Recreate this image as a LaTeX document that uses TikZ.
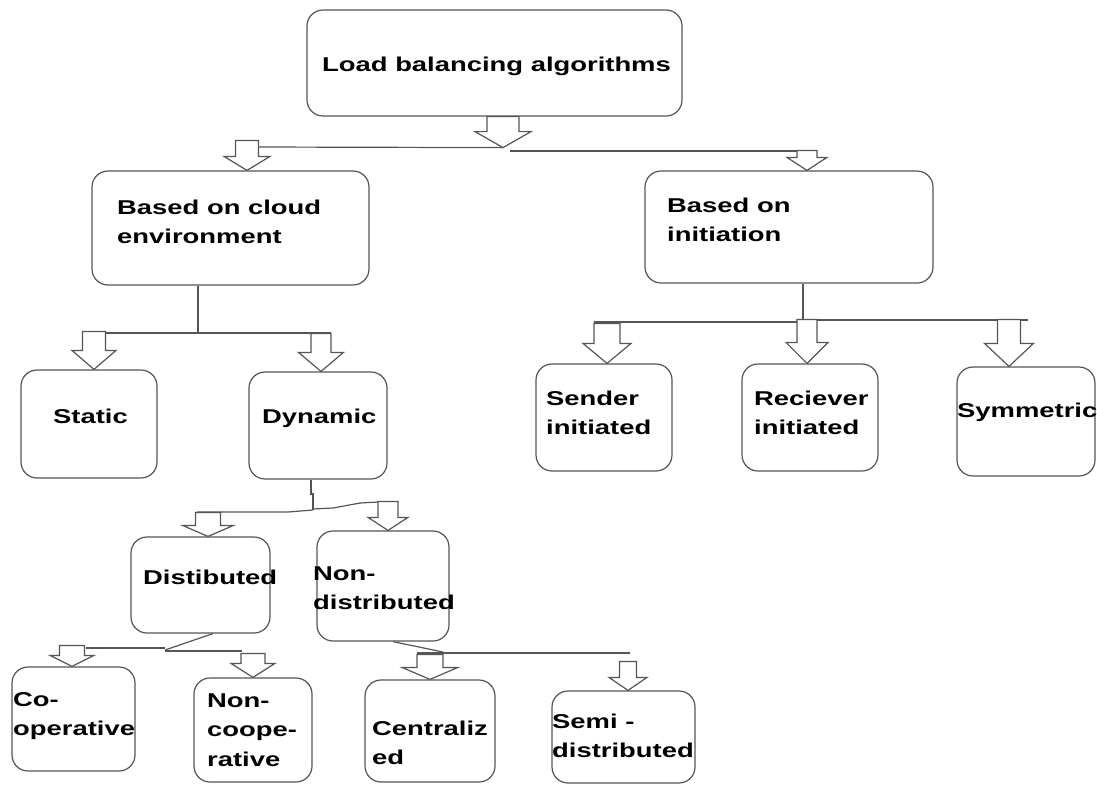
\documentclass[tikz,border=0pt]{standalone}
\usepackage{fontspec}
\usepackage{graphicx}
\setmainfont{Liberation Sans}
\usetikzlibrary{calc}
\newcommand{\X}[1]{\scalebox{1.37}[1]{#1}}
\definecolor{ln}{RGB}{85,85,85}
\tikzset{
  conn/.style={draw=ln, line width=1.2pt, line join=miter},
  boxn/.style={draw=ln, line width=1.2pt, rounded corners=16pt, inner sep=0pt},
  txt/.style={inner sep=0pt, font=\bfseries\fontsize{20}{29.5}\selectfont, align=left, anchor=base west, text=black},
  pics/barrow/.style args={#1/#2/#3/#4}{code={
    \draw[conn, fill=white] (-#2,{-#4-#1}) -- (-#2,-#4) -- (-#3,-#4) -- (0,0) -- (#3,-#4) -- (#2,-#4) -- (#2,{-#4-#1}) -- cycle;
  }}
}
\begin{document}
\begin{tikzpicture}[x=1pt,y=-1pt]
\useasboundingbox (0,0) rectangle (1097,785);
% boxes
\node[boxn, minimum width=375pt, minimum height=106pt] (top) at (494.5,63) {};
\node[boxn, minimum width=277pt, minimum height=114pt] (cloud) at (230.5,228) {};
\node[boxn, minimum width=288pt, minimum height=112pt] (init) at (789,227) {};
\node[boxn, minimum width=136pt, minimum height=108pt] (static) at (89,424) {};
\node[boxn, minimum width=138pt, minimum height=107pt] (dynamic) at (318,425.5) {};
\node[boxn, minimum width=136pt, minimum height=107pt] (sender) at (604,417.5) {};
\node[boxn, minimum width=136pt, minimum height=107pt] (receiver) at (810,417.5) {};
\node[boxn, minimum width=138pt, minimum height=109pt] (symm) at (1026,421.5) {};
\node[boxn, minimum width=139pt, minimum height=96pt] (dist) at (200.5,585) {};
\node[boxn, minimum width=132pt, minimum height=110pt] (nondist) at (383,586) {};
\node[boxn, minimum width=123pt, minimum height=104pt] (coop) at (73.5,719) {};
\node[boxn, minimum width=118pt, minimum height=104pt] (noncoop) at (253,730) {};
\node[boxn, minimum width=130pt, minimum height=102pt] (central) at (430,731) {};
\node[boxn, minimum width=143pt, minimum height=92pt] (semi) at (623.5,737) {};
% texts (anchor = baseline of last line)
\node[txt] (tTop) at (322,71) {\X{Load balancing algorithms}};
\node[txt] (tCloud) at (117,243.5) {\X{Based on cloud}\\\X{environment}};
\node[txt] (tInit) at (667,241.5) {\X{Based on}\\\X{initiation}};
\node[txt] (tStatic) at (53,423) {\X{Static}};
\node[txt] (tDyn) at (262,423) {\X{Dynamic}};
\node[txt] (tSender) at (546,434.5) {\X{Sender}\\\X{initiated}};
\node[txt] (tRecv) at (754,434.5) {\X{Reciever}\\\X{initiated}};
\node[txt] (tSym) at (957,417) {\X{Symmetric}};
\node[txt] (tDist) at (143,584) {\X{Distibuted}};
\node[txt] (tNonDist) at (313,609.5) {\X{Non-}\\\X{distributed}};
\node[txt] (tCoop) at (13,735.5) {\X{Co-}\\\X{operative}};
\node[txt] (tNonCoop) at (207,766) {\X{Non-}\\\X{coope-}\\\X{rative}};
\node[txt] (tCentral) at (372,764.5) {\X{Centraliz}\\\X{ed}};
\node[txt] (tSemi) at (552,757.5) {\X{Semi -}\\\X{distributed}};
% junction coordinates
\coordinate (j0) at ([xshift=8.5pt,yshift=-31pt]top.south);
\coordinate (aCloud) at ([xshift=16.5pt]cloud.north);
\coordinate (aInit) at ([xshift=18pt]init.north);
\coordinate (aStatic) at ([xshift=5pt]static.north);
\coordinate (aDyn) at ([xshift=3pt]dynamic.north);
\coordinate (aSender) at ([xshift=3pt]sender.north);
\coordinate (aRecv) at ([xshift=-3pt]receiver.north);
\coordinate (aSym) at ([xshift=-17pt]symm.north);
\coordinate (aDist) at ([xshift=7.5pt]dist.north);
\coordinate (aNonDist) at ([xshift=5pt]nondist.north);
\coordinate (aCoop) at ([xshift=-1.5pt]coop.north);
\coordinate (aNonCoop) at (noncoop.north);
\coordinate (aCentral) at (central.north);
\coordinate (aSemi) at ([xshift=4.5pt]semi.north);
% level 1 lines
\draw[conn] (j0) -- (257,147);
\draw[conn] (510,151) -- (817,151);
% cloud branch
\draw[conn] ([xshift=-32.5pt]cloud.south) -- (198,333);
\draw[conn] (82,333) -- (331,333);
% dynamic branch
\draw[conn] ([xshift=-7pt]dynamic.south) -- (311,494) -- (313,494) -- (313,510);
\draw[conn] (313,510) -- (288,512) -- (197,512);
\draw[conn] (313,509) -- (333,508) -- (360,503) -- (378,502);
% distributed branch
\draw[conn] ([xshift=12.5pt]dist.south) -- (165,650);
\draw[conn] (86,648) -- (165,648);
\draw[conn] (165,651) -- (242,651);
% non-distributed branch
\draw[conn] ([xshift=10pt]nondist.south) -- (443,652);
\draw[conn] (417,653) -- (630,653);
% initiation branch
\draw[conn] ([xshift=14pt]init.south) -- (803,322);
\draw[conn] (594,322) -- (803,322);
\draw[conn] (797,320) -- (1028,320);
% block arrows: shaft length / shaft half width / head half width / head height
\pic at (j0) {barrow=15/16/28/16};
\pic at (aCloud) {barrow=16/11.5/23/14};
\pic at (aInit) {barrow=7/10/20/13};
\pic at (aStatic) {barrow=19/11.5/22/19};
\pic at (aDyn) {barrow=19/10/22.5/19};
\pic at (aDist) {barrow=13/12.5/25.5/11};
\pic at (aNonDist) {barrow=16/10/20/13};
\pic at (aCoop) {barrow=10/12.5/22/11};
\pic at (aNonCoop) {barrow=10/12/22/14};
\pic at (aCentral) {barrow=13/13/28/12};
\pic at (aSemi) {barrow=16/8.5/19/13};
\pic at (aSender) {barrow=20/13/24/20};
\pic at (aRecv) {barrow=23/10/21/21};
\pic at (aSym) {barrow=24/11.5/24.5/23};
\end{tikzpicture}
\end{document}
